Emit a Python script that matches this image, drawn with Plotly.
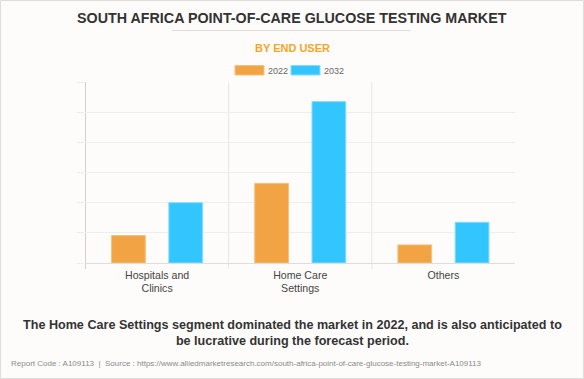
import plotly.graph_objects as go

categories = ["Hospitals and<br>Clinics", "Home Care<br>Settings", "Others"]
series_names = ["2022", "2032"]
values_2022 = [9.1, 26.4, 6.0]
values_2032 = [20.0, 53.5, 13.5]
colors = ["#f2a444", "#33c6fe"]
line_colors = ["#f7c07e", "#86dcff"]

W, H = 584, 379
L, R, T, B = 85, 69, 82, 116
PW, PH = W - L - R, H - T - B
FONT = "Liberation Sans, Arial, sans-serif"


def px(x):
    return (x - L) / PW


def py(y):
    return (H - B - y) / PH


fig = go.Figure()
for name, vals, c, lc in zip(series_names, [values_2022, values_2032], colors, line_colors):
    fig.add_trace(go.Bar(x=categories, y=vals, name=name, marker=dict(color=c, line=dict(color=lc, width=1)),
                         showlegend=False))

shapes = []
# vertical separators (category boundaries) and left axis
for xb, col in [(-0.5, "#d0d0d0"), (0.5, "#e6e6e6"), (1.5, "#e6e6e6")]:
    shapes.append(dict(type="line", xref="x", yref="y domain", x0=xb, x1=xb, y0=-6 / PH, y1=1,
                       line=dict(color=col, width=1), layer="below"))
# title underline
shapes.append(dict(type="line", xref="paper", yref="paper", x0=px(172), x1=px(411), y0=py(30.5), y1=py(30.5),
                   line=dict(color="#dddddd", width=1)))
# legend swatches
for (x0, x1), c, lc in zip([(235, 264), (291, 320)], colors, line_colors):
    shapes.append(dict(type="rect", xref="paper", yref="paper", x0=px(x0), x1=px(x1), y0=py(75), y1=py(65.5),
                       fillcolor=c, line=dict(color=lc, width=1)))
# outer border
shapes.append(dict(type="rect", xref="paper", yref="paper", x0=px(0.5), x1=px(W - 0.5), y0=py(H - 0.5), y1=py(0.5),
                   line=dict(color="#dddddd", width=1), layer="below"))

annotations = [
    dict(text="<b>SOUTH AFRICA POINT-OF-CARE GLUCOSE TESTING MARKET</b>", x=px(292), y=py(17.5),
         font=dict(size=14.3, color="#333333", family=FONT)),
    dict(text="<b>BY END USER</b>", x=px(292), y=py(47.5), font=dict(size=11, color="#f5a623", family=FONT)),
    dict(text=series_names[0], x=px(266), y=py(70.5), xanchor="left", font=dict(size=9, color="#666666", family=FONT)),
    dict(text=series_names[1], x=px(322), y=py(70.5), xanchor="left", font=dict(size=9, color="#666666", family=FONT)),
    dict(text="<b>The Home Care Settings segment dominated the market in 2022, and is also anticipated to<br>"
              "be lucrative during the forecast period.</b>", x=px(292), y=py(333),
         font=dict(size=12.6, color="#333333", family=FONT)),
    dict(text="Report Code : A109113  |  Source : https://www.alliedmarketresearch.com/south-africa-point-of-care-glucose-testing-market-A109113",
         x=px(9), y=py(363), xanchor="left", font=dict(size=8, color="#8a8a8a", family=FONT)),
]
for a in annotations:
    a.update(xref="paper", yref="paper", showarrow=False)
    a.setdefault("xanchor", "center")
    a.setdefault("yanchor", "middle")

fig.update_layout(
    width=W, height=H,
    margin=dict(l=L, r=R, t=T, b=B, pad=0),
    paper_bgcolor="#fdfcfb", plot_bgcolor="#fdfcfb",
    barmode="group", bargap=0.2, bargroupgap=0.41,
    font=dict(family=FONT, color="#444444"),
    shapes=shapes, annotations=annotations,
    xaxis=dict(showgrid=False, showline=False, zeroline=False, ticks="", ticklabelstandoff=4,
               tickfont=dict(size=10.6, color="#444444", family=FONT), fixedrange=True),
    yaxis=dict(range=[0, 60], dtick=10, showticklabels=False, showgrid=True, gridcolor="#eeeeee",
               ticks="outside", ticklen=7, tickcolor="#eeeeee", zeroline=True, zerolinecolor="#dddddd",
               zerolinewidth=1, showline=False, fixedrange=True),
)

fig.write_html("out.html", config={"displayModeBar": False},
               post_script="document.body.style.margin='0';document.body.style.overflow='hidden';")
